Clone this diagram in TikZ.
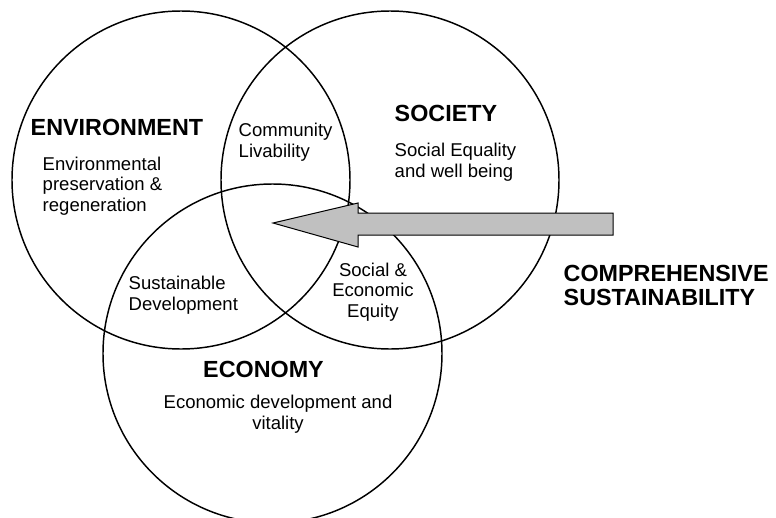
\documentclass[tikz,border=0pt]{standalone}
\usepackage{fontspec}
\setmainfont{Liberation Sans}
\tikzset{every picture/.style={line width=1.1pt}}
\tikzset{
  head/.style={inner sep=0pt, font=\fontsize{17.5}{21}\selectfont\bfseries, align=left},
  body/.style={inner sep=0pt, font=\fontsize{13.9}{15.5}\selectfont, align=left},
}
\definecolor{arrowgray}{RGB}{192,192,192}
\begin{document}
\begin{tikzpicture}[x=0.75pt,y=0.75pt,yscale=-1,xscale=1]
\useasboundingbox (0,0) rectangle (776,518);
\clip (0,0) rectangle (776,518);
%Shape: Circle [environment]
\draw (181,180) circle [radius=169];
%Shape: Circle [society]
\draw (390,180) circle [radius=169];
%Shape: Circle [economy]
\draw (272.5,353.5) circle [radius=169.5];
%Shape: Left Arrow [comprehensive]
\draw [line width=0.75pt, fill=arrowgray] (273,223) -- (358,203) -- (358,213) -- (613,213) -- (613,235) -- (358,235) -- (358,247) -- cycle ;
% Text Node
\node (env) [head, anchor=west] at (30,127) {ENVIRONMENT};
% Text Node
\node (envtxt) [body, anchor=west] at (42,186) {Environmental\\preservation \&\\regeneration};
% Text Node
\node (liv) [body, anchor=west] at (238,142) {Community\\Livability};
% Text Node
\node (soc) [head, anchor=west] at (394,113) {SOCIETY};
% Text Node
\node (soctxt) [body, anchor=west] at (394,162) {Social Equality\\and well being};
% Text Node
\node (sust) [body, anchor=west] at (128,295) {Sustainable\\Development};
% Text Node
\node (equity) [body, align=center] at (373,292) {Social \&\\Economic\\Equity};
% Text Node
\node (eco) [head] at (263.5,369) {ECONOMY};
% Text Node
\node (ecotxt) [body, align=center] at (278,414) {Economic development and\\vitality};
% Text Node
\node (comp) [head, anchor=west, font=\fontsize{17.5}{18}\selectfont\bfseries] at (563,285) {COMPREHENSIVE\\SUSTAINABILITY};
\end{tikzpicture}
\end{document}
